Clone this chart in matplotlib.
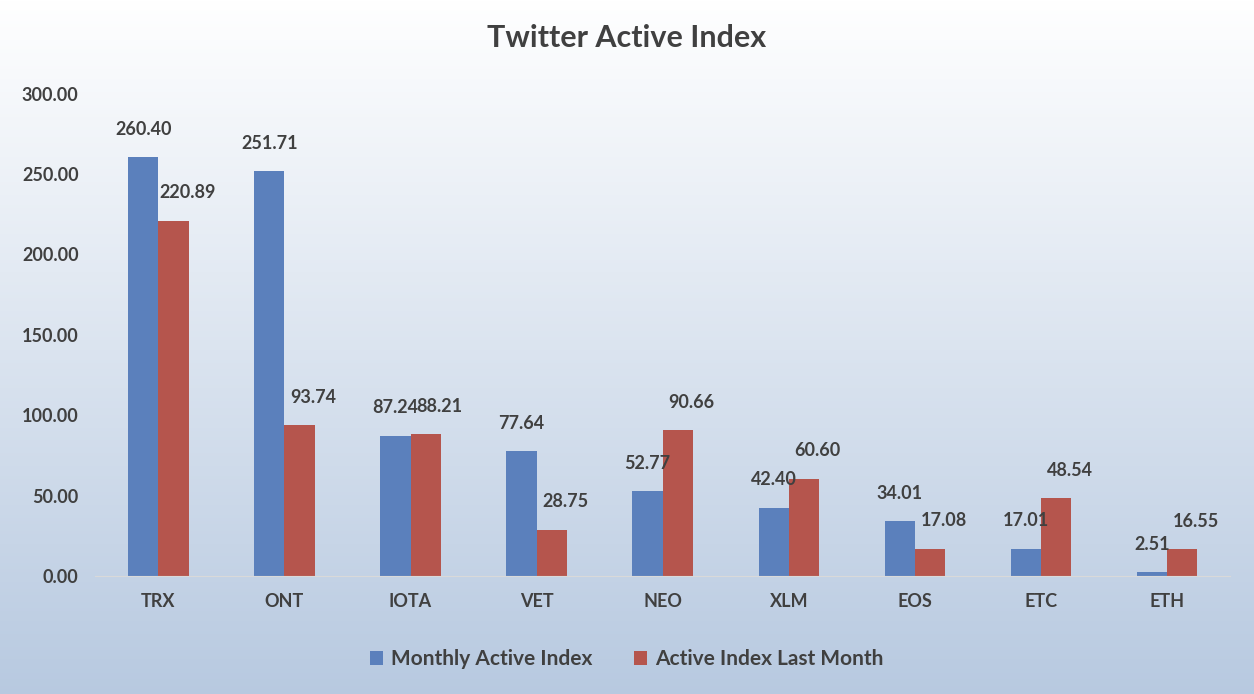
import numpy as np
import matplotlib.pyplot as plt

coins = ["TRX", "ONT", "IOTA", "VET", "NEO", "XLM", "EOS", "ETC", "ETH"]
monthly = [260.40, 251.71, 87.24, 77.64, 52.77, 42.40, 34.01, 17.01, 2.51]
last_month = [220.89, 93.74, 88.21, 28.75, 90.66, 60.60, 17.08, 48.54, 16.55]

plt.rcParams['font.family'] = ['Lato', 'DejaVu Sans']
txt = "#404040"

fig = plt.figure(figsize=(12.54, 6.94), dpi=100)
# background gradient
bg = fig.add_axes([0, 0, 1, 1], zorder=-10)
grad = np.linspace(0, 1, 256).reshape(-1, 1)
top = np.array([1.0, 1.0, 1.0])
bot = np.array([0.72, 0.79, 0.88])
img = top + (bot - top) * grad[..., None]
bg.imshow(img, aspect="auto", extent=[0, 1, 0, 1])
bg.axis("off")

ax = fig.add_axes([0.076, 0.170, 0.905, 0.695])
ax.patch.set_alpha(0)
x = np.arange(len(coins))
w = 0.24
b1 = ax.bar(x - w / 2, monthly, w, color="#5B80BC", label="Monthly Active Index")
b2 = ax.bar(x + w / 2, last_month, w, color="#B5554D", label="Active Index Last Month")

for xi, v in zip(x, monthly):
    ax.annotate(f"{v:.2f}", (xi - w / 2, v), xytext=(0, 14), textcoords="offset points",
                ha="center", va="bottom", fontsize=13, fontweight="bold", color=txt)
for xi, v in zip(x, last_month):
    ax.annotate(f"{v:.2f}", (xi + w / 2, v), xytext=(10, 14), textcoords="offset points",
                ha="center", va="bottom", fontsize=13, fontweight="bold", color=txt)

ax.set_xlim(-0.5, len(coins) - 0.5)
ax.set_ylim(0, 300)
ax.set_yticks(np.arange(0, 301, 50))
ax.set_yticklabels([f"{t:.2f}" for t in np.arange(0, 301, 50)])
ax.set_xticks(x)
ax.set_xticklabels(coins)
ax.tick_params(length=0, labelsize=13, labelcolor=txt, pad=12)
for lab in ax.get_xticklabels() + ax.get_yticklabels():
    lab.set_fontweight("bold")
for s in ["top", "right", "left"]:
    ax.spines[s].set_visible(False)
ax.spines["bottom"].set_color("#D9D9D9")

fig.text(0.5, 0.945, "Twitter Active Index", ha="center", va="center",
         fontsize=22, fontweight="bold", color=txt)
fig.legend(handles=[b1, b2], loc="center", bbox_to_anchor=(0.5, 0.05), ncol=2,
           frameon=False, prop={"size": 15, "weight": "bold"}, labelcolor=txt,
           handlelength=0.6, handleheight=0.6, columnspacing=2, handletextpad=0.4)

fig.savefig("out.png", dpi=100)
